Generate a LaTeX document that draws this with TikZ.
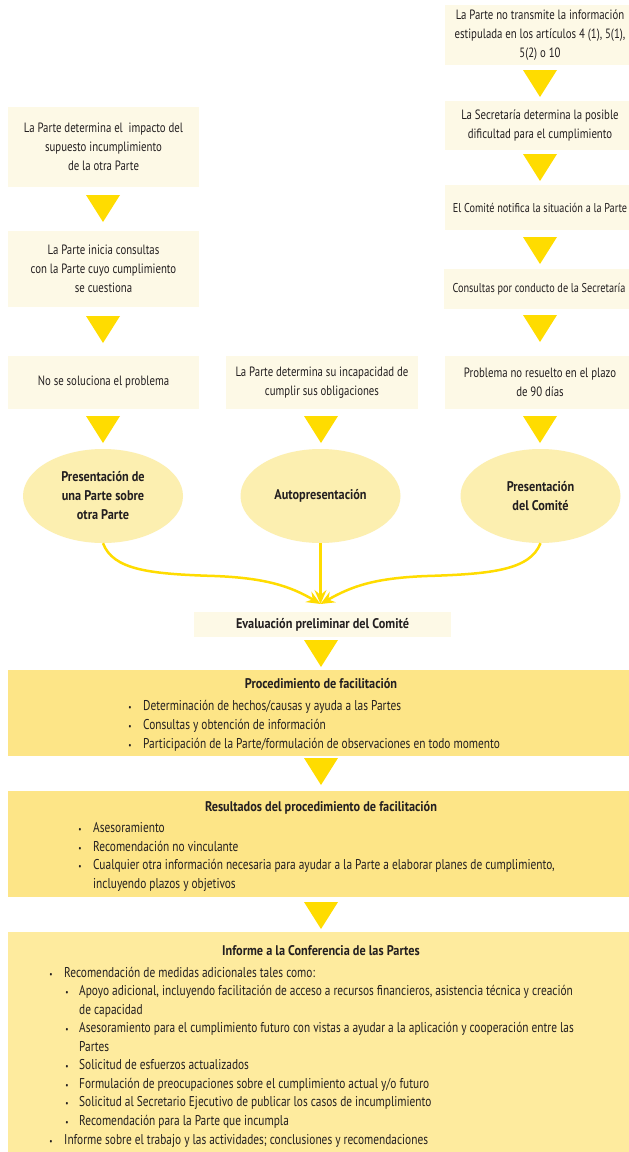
\documentclass[tikz,border=0pt]{standalone}
\usepackage{fontspec}
\setmainfont{PT Sans}[FakeStretch=0.8]
\newfontfamily\hbf{PT Sans}[FakeStretch=0.875]
\usetikzlibrary{arrows.meta,shapes.geometric}
\definecolor{cream}{HTML}{FDF9E6}
\definecolor{ellc}{HTML}{FCEFB0}
\definecolor{gold}{HTML}{FFDC00}
\definecolor{band}{HTML}{FDE587}
\definecolor{bandl}{HTML}{FEEB9E}
\definecolor{ink}{HTML}{231F20}
\newcommand\myitem[5]{\node[anchor=base] (#1b) at (#2,#4) {\fontsize{9}{9}\selectfont •};
  \node[anchor=base west,font=\fontsize{14.2}{18.7}\selectfont] (#1) at (#3,#4) {#5};}
\newcommand\mycont[4]{\node[anchor=base west,font=\fontsize{14.2}{18.7}\selectfont] (#1) at (#2,#3) {#4};}
\begin{document}
\begin{tikzpicture}[x=1pt,y=-1pt,
  every node/.style={text=ink,font=\fontsize{13.5}{18.8}\selectfont,inner sep=0pt},
  cbox/.style 2 args={fill=cream,align=center,minimum width=#1,minimum height=#2},
  boldt/.style={font=\fontsize{14}{19}\selectfont\hbf\bfseries},
  ellnode/.style={ellipse,fill=ellc,align=center,minimum width=160,minimum height=94,boldt},
  flow/.style={draw=gold,line width=2.5pt,-{Stealth[length=14pt,width=12pt,inset=5pt]}},
  tri/.pic={\fill[gold] (-17,0)--(17,0)--(0,27)--cycle;}]
\fill[white] (0,0) rectangle (629,1152);
\useasboundingbox (0,0) rectangle (629,1152);

% right column
\node[cbox={190}{60}] (r1) at (540,35) {La Parte no transmite la información\\ estipulada en los artículos 4 (1), 5(1),\\ 5(2) o 10};
\pic at (540,70) {tri};
\node[cbox={190}{49}] (r2) at (540,125.5) {La Secretaría determina la posible\\ dificultad para el cumplimiento};
\pic at (540,154) {tri};
\node[cbox={190}{45},font=\fontsize{12.8}{18.8}\selectfont] (r3) at (540,207.5) {El Comité notifica la situación a la Parte};
\pic at (540,237) {tri};
\node[cbox={190}{40},font=\fontsize{12.8}{18.8}\selectfont] (r4) at (539,289) {Consultas por conducto de la Secretaría};
\pic at (540,315) {tri};
\node[cbox={190}{53}] (r5) at (540,382.5) {Problema no resuelto en el plazo\\ de 90 días};
\pic at (540,416) {tri};

% left column
\node[cbox={191}{80}] (l1) at (103.5,147) {La Parte determina el~ impacto del\\ supuesto incumplimiento\\ de la otra Parte};
\pic at (103,195) {tri};
\node[cbox={191}{76}] (l2) at (103.5,269) {La Parte inicia consultas\\ con la Parte cuyo cumplimiento\\ se cuestiona};
\pic at (103,316) {tri};
\node[cbox={191}{53}] (l3) at (103.5,382.5) {No se soluciona el problema};
\pic at (103,416) {tri};

% middle
\node[cbox={192}{53}] (m3) at (322,382.5) {La Parte determina su incapacidad de\\ cumplir sus obligaciones};
\pic at (321,416) {tri};

% ellipses
\node[ellnode] (e1) at (103,496) {Presentación de\\ una Parte sobre\\ otra Parte};
\node[ellnode] (e2) at (320.5,496) {Autopresentación};
\node[ellnode] (e3) at (540.5,496) {Presentación\\ del Comité};

\coordinate (tip) at (320.5,604);
\draw[flow] (e1.south) .. controls (113,570) and (150,574) .. (215,576) .. controls (265,578) and (290,586) .. (tip);
\draw[flow] (e2.south) -- (tip);
\draw[flow] (e3.south) .. controls (530,570) and (492,574) .. (427,576) .. controls (375,578) and (352,586) .. (tip);

\node[cbox={257}{25},boldt] (ev) at (322.5,624.5) {Evaluación preliminar del Comité};
\pic at (321,640) {tri};

% Procedimiento
\node[fill=band,minimum width=624,minimum height=86,anchor=north west] (p) at (8,670) {};
\node[anchor=base,boldt] (pt) at (321,688) {Procedimiento de facilitación};
\myitem{p1}{130}{143}{710}{Determinación de hechos/causas y ayuda a las Partes}
\myitem{p2}{130}{143}{729}{Consultas y obtención de información}
\myitem{p3}{130}{143}{748}{Participación de la Parte/formulación de observaciones en todo momento}
\pic at (321,758) {tri};

% Resultados
\node[fill=band,minimum width=624,minimum height=106,anchor=north west] (q) at (8,791) {};
\node[anchor=base,boldt] (qt) at (321,811) {Resultados del procedimiento de facilitación};
\myitem{q1}{80}{93}{832}{Asesoramiento}
\myitem{q2}{80}{93}{851}{Recomendación no vinculante}
\myitem{q3}{80}{93}{869.5}{Cualquier otra información necesaria para ayudar a la Parte a elaborar planes de cumplimiento,}
\mycont{q4}{93}{888}{incluyendo plazos y objetivos}
\pic at (321,902) {tri};

% Informe
\node[fill=bandl,minimum width=624,minimum height=225,anchor=north west] (s) at (8,932) {};
\node[anchor=base,boldt] (st) at (321,955) {Informe a la Conferencia de las Partes};
\myitem{s1}{51}{64}{977}{Recomendación de medidas adicionales tales como:}
\myitem{s2}{67}{79}{995.6}{Apoyo adicional, incluyendo facilitación de acceso a recursos financieros, asistencia técnica y creación}
\mycont{s3}{79}{1014.1}{de capacidad}
\myitem{s4}{67}{79}{1032.7}{Asesoramiento para el cumplimiento futuro con vistas a ayudar a la aplicación y cooperación entre las}
\mycont{s5}{79}{1051.2}{Partes}
\myitem{s6}{67}{79}{1069.8}{Solicitud de esfuerzos actualizados}
\myitem{s7}{67}{79}{1088.3}{Formulación de preocupaciones sobre el cumplimiento actual y/o futuro}
\myitem{s8}{67}{79}{1106.9}{Solicitud al Secretario Ejecutivo de publicar los casos de incumplimiento}
\myitem{s9}{67}{79}{1125.4}{Recomendación para la Parte que incumpla}
\myitem{s10}{51}{64}{1144}{Informe sobre el trabajo y las actividades; conclusiones y recomendaciones}
\end{tikzpicture}
\end{document}
